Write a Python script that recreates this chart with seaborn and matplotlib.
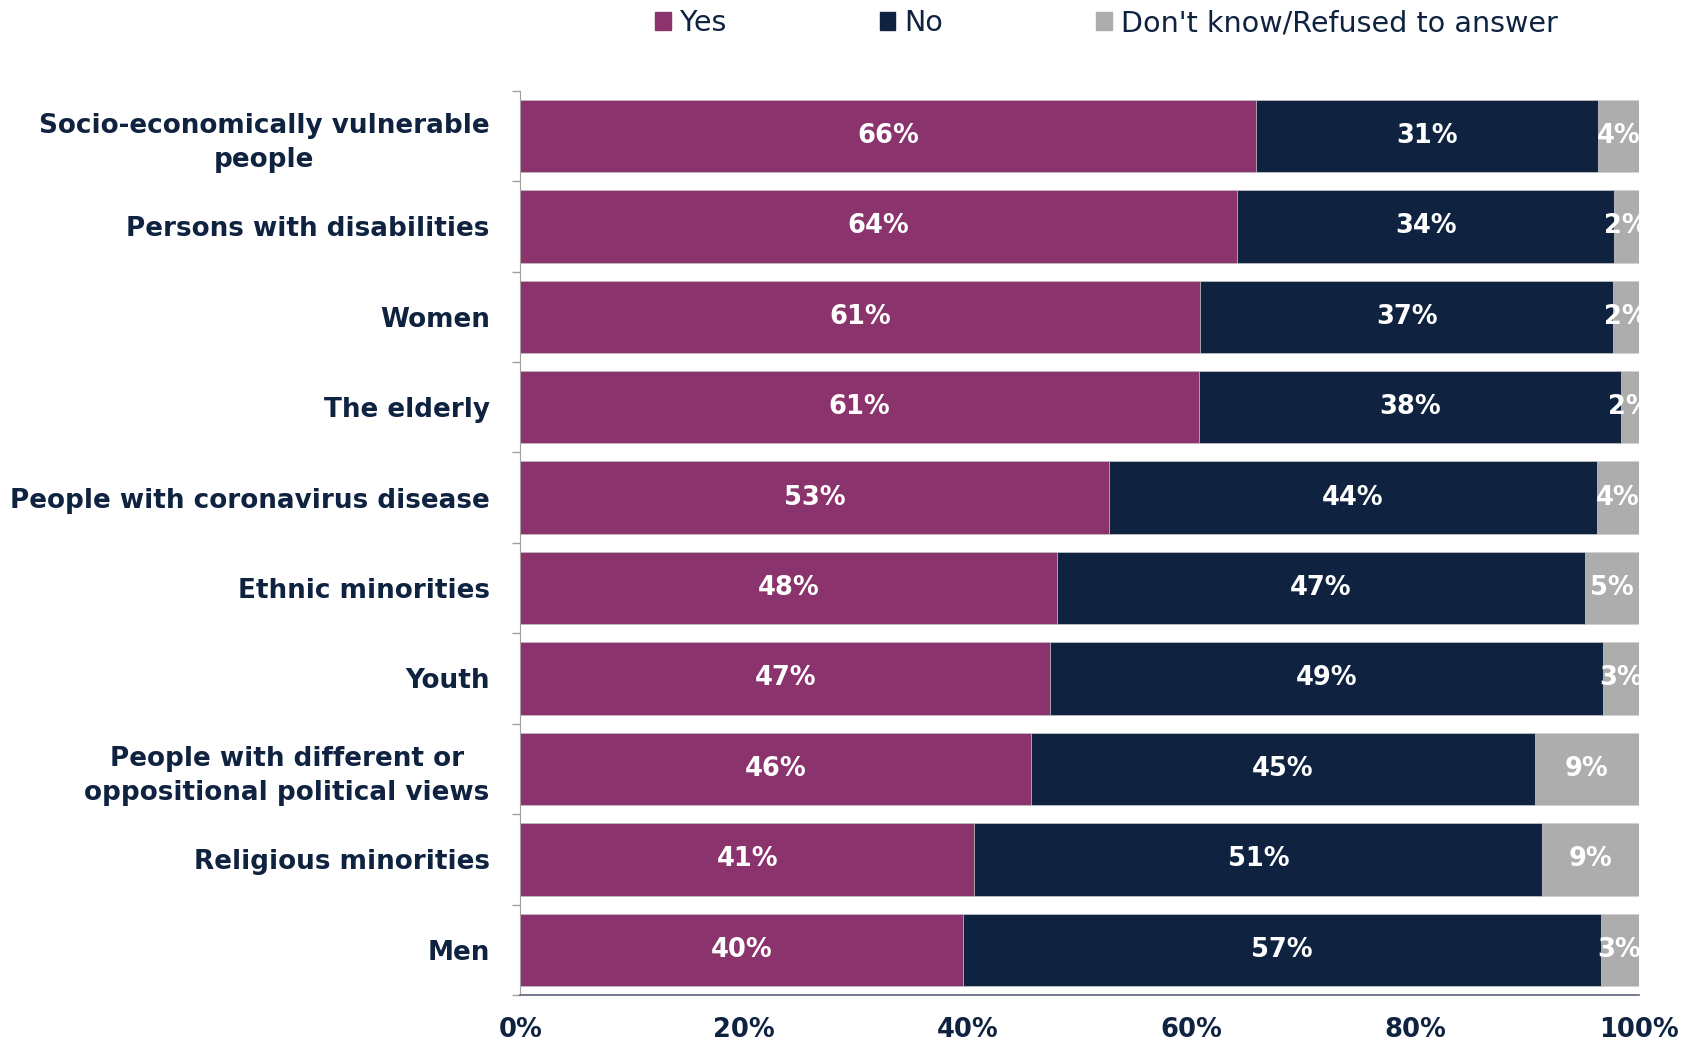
import pandas as pd
import matplotlib.pyplot as plt
import seaborn as sns
from matplotlib.patches import Patch
from matplotlib.ticker import FixedLocator

# Data (bar widths in %, labels are the rounded values)
groups = [
    "Socio-economically vulnerable\npeople",
    "Persons with disabilities",
    "Women",
    "The elderly",
    "People with coronavirus disease",
    "Ethnic minorities",
    "Youth",
    "People with different or\noppositional political views",
    "Religious minorities",
    "Men",
]
yes = [65.8, 64.1, 60.8, 60.7, 52.6, 48.0, 47.4, 45.7, 40.6, 39.6]
no = [30.6, 33.7, 36.9, 37.7, 43.7, 47.2, 49.4, 45.0, 50.8, 57.0]
dont_know = [3.6, 2.2, 2.3, 1.6, 3.7, 4.8, 3.2, 9.3, 8.6, 3.4]
series_names = ["Yes", "No", "Don't know/Refused to answer"]
x_ticks = [0, 20, 40, 60, 80, 100]

yes_color = "#8B336C"
no_color = "#0F2341"
dk_color = "#ADADAD"
text_color = "#0F2341"

df = pd.DataFrame({"group": groups, "yes": yes, "no": no, "dk": dont_know})
df["yes_no"] = df["yes"] + df["no"]
df["total"] = df["yes_no"] + df["dk"]

sns.set_style("white")
plt.rcParams["font.family"] = ["DejaVu Sans"]

fig = plt.figure(figsize=(16.97, 10.49), dpi=100)
ax = fig.add_axes([0.3066, 0.0515, 0.659, 0.862])

# stacked bars drawn as overlapping cumulative bars
bar_kw = dict(y="group", orient="h", width=0.8, saturation=1, errorbar=None,
              edgecolor="#d0d0d0", linewidth=0.5, ax=ax)
sns.barplot(data=df, x="total", color=dk_color, **bar_kw)
sns.barplot(data=df, x="yes_no", color=no_color, **bar_kw)
sns.barplot(data=df, x="yes", color=yes_color, **bar_kw)

# segment labels
for i, row in df.iterrows():
    for left, w in [(0, row["yes"]), (row["yes"], row["no"]), (row["yes_no"], row["dk"])]:
        ax.text(left + w / 2, i, f"{w:.0f}%", ha="center", va="center",
                color="white", fontsize=18.5, fontweight="bold", clip_on=True)

ax.set_xlim(0, 100)
ax.set_ylim(len(groups) - 0.5, -0.5)
ax.set_xlabel("")
ax.set_ylabel("")

ax.set_xticks(x_ticks)
ax.set_xticklabels([f"{v}%" for v in x_ticks])
ax.tick_params(axis="x", direction="in", length=8, width=1, color="#5a6478",
               pad=16, labelsize=18.5, labelcolor=text_color)
for t in ax.get_xticklabels():
    t.set_fontweight("bold")

ax.tick_params(axis="y", which="major", length=0, pad=22, labelsize=18.9,
               labelcolor=text_color)
ax.yaxis.set_minor_locator(FixedLocator([k - 0.5 for k in range(len(groups) + 1)]))
ax.tick_params(axis="y", which="minor", direction="out", length=6, width=1,
               color="#a0a0a0", left=True)
for t in ax.get_yticklabels():
    t.set_fontweight("bold")
    t.set_multialignment("center")
    t.set_linespacing(1.4)

for side in ["top", "right"]:
    ax.spines[side].set_visible(False)
ax.spines["left"].set_color("#a0a0a0")
ax.spines["bottom"].set_color("#5a6478")
ax.spines["bottom"].set_linewidth(1.2)

handles = [Patch(color=c) for c in [yes_color, no_color, dk_color]]
fig.legend(handles, series_names, loc="center", bbox_to_anchor=(0.652, 0.978),
           ncol=3, frameon=False, fontsize=20.6, labelcolor=text_color,
           handlelength=0.55, handleheight=0.55, handletextpad=0.3,
           columnspacing=5.37)

fig.savefig("out.png", dpi=100)
